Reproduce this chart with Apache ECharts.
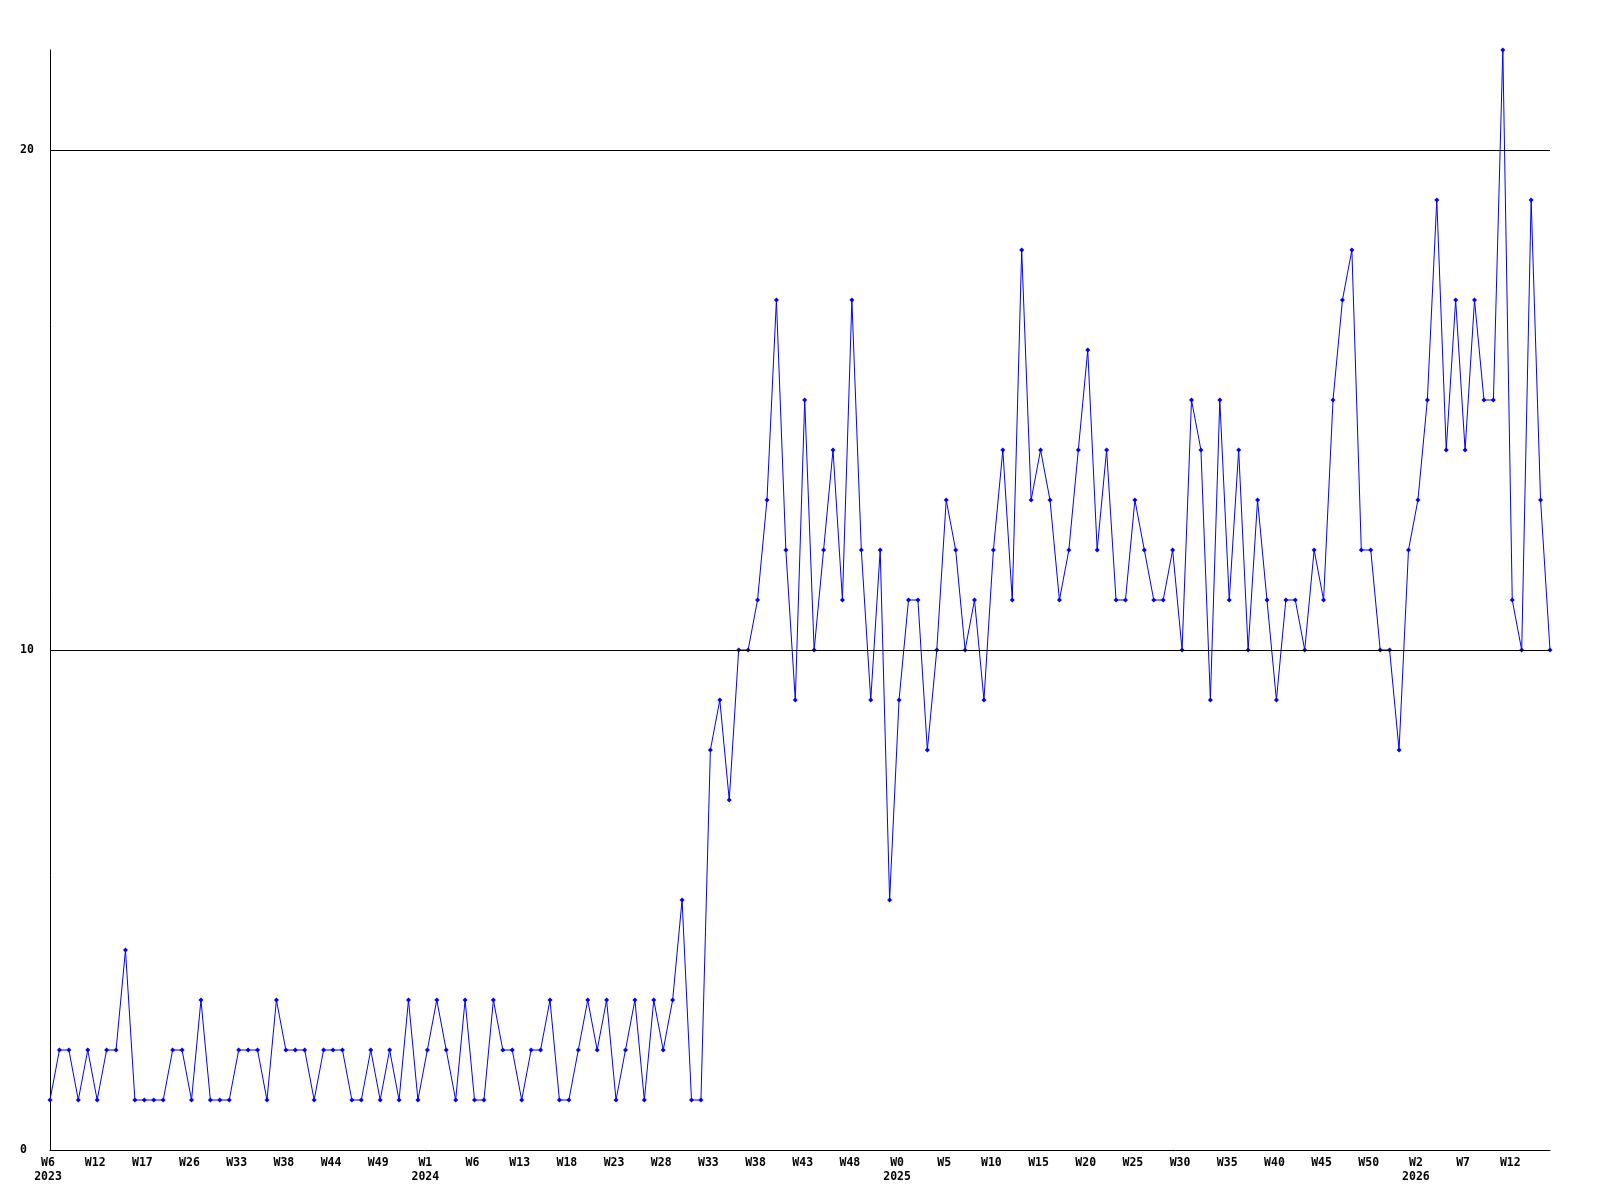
<!DOCTYPE html>
<html>
<head>
<meta charset="utf-8">
<script src="https://cdn.jsdelivr.net/npm/echarts@6/dist/echarts.min.js"></script>
<style>html,body{margin:0;padding:0;background:#fff}#c{width:1600px;height:1200px}</style>
</head>
<body>
<div id="c"></div>
<script>
// Values per week point (160 points)
const values = [
  1,2,2,1,2,1,2,2,4,1, 1,1,1,2,2,1,3,1,1,1, 2,2,2,1,3,2,2,2,1,2,
  2,2,1,1,2,1,2,1,
  3,1,2,3,2,1,3,1,1,3, 2,2,1,2,2,3,1,1,2,3, 2,3,1,2,3,1,3,2,3,5, 1,1,
  8,9,7,10,10, 11,13,17,12,9, 15,10,12,14,11, 17,12,9,12,5, 9,11,11,
  8,10,13,12,10, 11,9,12,14,11, 18,13,14,13,11, 12,14,16,12,14, 11,11,13,
  12,11,11,12,10, 15,14,9,15,11, 14,10,13,11,9, 11,11,10,12,11,
  15,17,18,12,12, 10,10,8,12,13, 15,19,14,17,14, 17,15,15,22,11, 10,19,13,10
];
// Tick labels, one every 5 points
const tickLabels = ['W6\n2023','W12','W17','W26','W33','W38','W44','W49','W1\n2024','W6',
  'W13','W18','W23','W28','W33','W38','W43','W48','W0\n2025','W5',
  'W10','W15','W20','W25','W30','W35','W40','W45','W50','W2\n2026','W7','W12'];
const tickStep = 5;
const categories = values.map((v, i) => String(i));
const yTicks = [0, 10, 20];
const gridLines = [10, 20];

const chart = echarts.init(document.getElementById('c'), null, {renderer: 'canvas'});
const font = {fontFamily: 'DejaVu Sans Mono', fontWeight: 'bold', fontSize: 11.5, color: '#000'};
chart.setOption({
  animation: false,
  backgroundColor: '#fff',
  grid: {left: 50, right: 50, top: 50, bottom: 50, containLabel: false},
  xAxis: {
    type: 'category',
    data: categories,
    boundaryGap: false,
    axisLine: {show: true, lineStyle: {color: '#000', width: 1}},
    axisTick: {show: false},
    splitLine: {show: false},
    axisLabel: Object.assign({}, font, {
      interval: (i) => i % tickStep === 0,
      margin: 6.5,
      lineHeight: 13.5,
      padding: [0, 4, 0, 0],
      formatter: (v, i) => tickLabels[i / tickStep] || ''
    })
  },
  yAxis: {
    type: 'value',
    min: 0, max: 22, interval: 10,
    axisLine: {show: true, lineStyle: {color: '#000', width: 1}},
    axisTick: {show: false},
    splitLine: {show: false},
    axisLabel: Object.assign({}, font, {
      align: 'left',
      margin: 30,
      formatter: (v) => yTicks.includes(v) ? String(v) : ''
    })
  },
  series: [{
    type: 'line',
    data: values,
    symbol: 'diamond',
    symbolSize: 5,
    showAllSymbol: true,
    lineStyle: {color: '#0000ff', width: 1},
    itemStyle: {color: '#0000ff'},
    markLine: {
      silent: true,
      symbol: ['none', 'none'],
      label: {show: false},
      lineStyle: {color: '#000', width: 1, type: 'solid'},
      data: gridLines.map(v => ({yAxis: v}))
    },
    z: 3
  }]
});
</script>
</body>
</html>
